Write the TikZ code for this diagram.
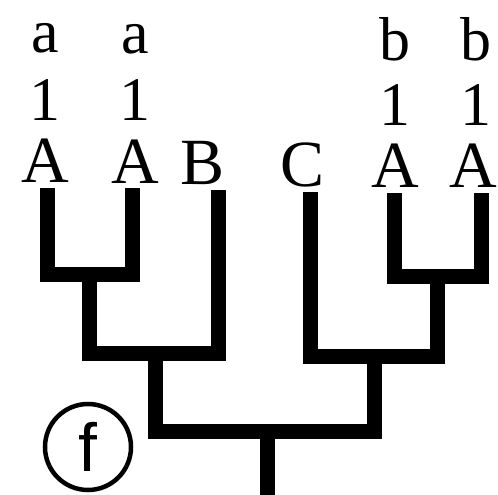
\documentclass[tikz,border=0pt]{standalone}
\usepackage{fontspec}
\setmainfont{Liberation Serif}
\newfontfamily\circfont{Liberation Sans}
\begin{document}
\begin{tikzpicture}[x=1pt,y=-1pt,
  leaf/.style={anchor=base,inner sep=0pt,font=\fontsize{66}{66}\selectfont},
  mark row/.style={anchor=base,inner sep=0pt,font=\fontsize{62}{62}\selectfont},
  branch/.style={line width=15pt,line join=miter,line cap=butt},
  tag/.style={circle,draw,line width=4.5pt,minimum size=86pt,inner sep=0pt,
              font=\circfont\fontsize{68}{68}\selectfont}]
\useasboundingbox (0,0) rectangle (498,495);

% tip labels: allele / copy number / species
\node[mark row] (a1) at (45,53) {a};
\node[mark row] (a2) at (135,54) {a};
\node[mark row] (b5) at (395,60) {b};
\node[mark row] (b6) at (476,60) {b};
\node[mark row] (n1) at (45,120) {1};
\node[mark row] (n2) at (135,121) {1};
\node[mark row] (n5) at (395,125) {1};
\node[mark row] (n6) at (476,125) {1};
\node[leaf] (A1) at (45,182) {A};
\node[leaf] (A2) at (135,183) {A};
\node[leaf] (B)  at (203,184) {B};
\node[leaf] (C)  at (303,186) {C};
\node[leaf] (A5) at (395,187) {A};
\node[leaf] (A6) at (473,187) {A};

% branch tips
\coordinate (t1) at (47,188);
\coordinate (t2) at (132,188);
\coordinate (tB) at (218,190);
\coordinate (tC) at (310,192);
\coordinate (t5) at (394,193);
\coordinate (t6) at (481,193);

% internal nodes
\coordinate (u12) at (89,274);
\coordinate (u56) at (437,276);
\coordinate (uL) at (155,353);
\coordinate (uR) at (374,356);
\coordinate (r) at (267,431);
\coordinate (base) at (267,495);

% tree
\draw[branch] (t1) |- (u12) -| (t2);
\draw[branch] (t5) |- (u56) -| (t6);
\draw[branch] (u12) |- (uL) -| (tB);
\draw[branch] (tC) |- (uR) -| (u56);
\draw[branch] (uL) |- (r) -| (uR);
\draw[branch] (r) -- (base);

\node[tag] (f) at (88,447) {f};
\end{tikzpicture}
\end{document}
